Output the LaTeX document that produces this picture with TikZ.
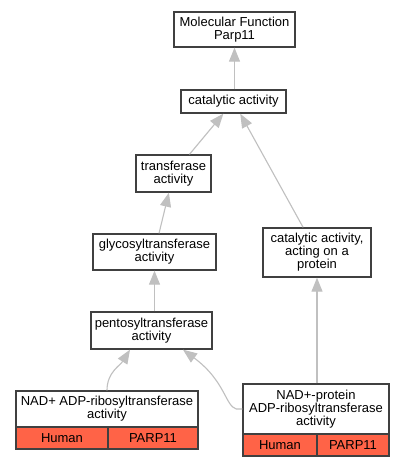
\documentclass[tikz,border=0pt]{standalone}
\usepackage{fontspec}
\setmainfont{Liberation Sans}
\usetikzlibrary{arrows.meta,calc}
\definecolor{edgegray}{HTML}{C0C0C0}
\definecolor{boxline}{HTML}{404040}
\definecolor{cellred}{HTML}{FF6347}
\tikzset{
  x=1pt,y=1pt,
  term/.style={draw=boxline,line width=1.4pt,fill=white,align=center,inner sep=0pt,
    font=\fontsize{13}{13}\selectfont},
  cell/.style={draw=boxline,line width=1.4pt,fill=cellred,inner sep=0pt,
    font=\fontsize{13}{13}\selectfont},
  edge/.style={draw=edgegray,line width=1.1pt,-{Triangle[length=14pt,width=11pt]}}
}
\begin{document}
\begin{tikzpicture}
\useasboundingbox[fill=white] (0,0) rectangle (404,-467);
\node[term,minimum width=121,minimum height=35] (mf) at (234.5,-29.5) {Molecular Function\\Parp11};
\node[term,minimum width=105,minimum height=23] (cat) at (233.5,-101.5) {catalytic activity};
\node[term,minimum width=75,minimum height=37] (trans) at (173.5,-173.5) {transferase\\activity};
\node[term,minimum width=123,minimum height=36] (glyco) at (154.5,-252) {glycosyltransferase\\activity};
\node[term,minimum width=108,minimum height=49] (prot) at (317,-252.5) {catalytic activity,\\acting on a\\protein};
\node[term,minimum width=121,minimum height=37] (pento) at (151.5,-330.5) {pentosyltransferase\\activity};
\node[term,minimum width=182,minimum height=36] (nadone) at (107,-409) {NAD+ ADP-ribosyltransferase\\activity};
\node[cell,minimum width=92,minimum height=22] (nadoneh) at (62,-438) {Human};
\node[cell,minimum width=90,minimum height=22] (nadonep) at (153,-438) {PARP11};
\node[term,minimum width=146,minimum height=50] (nadtwo) at (316,-409) {NAD+-protein\\ADP-ribosyltransferase\\activity};
\node[cell,minimum width=74,minimum height=22] (nadtwoh) at (280,-445) {Human};
\node[cell,minimum width=72,minimum height=22] (nadtwop) at (353,-445) {PARP11};
\coordinate (pentoa) at ($(pento.south)+(-21.5,0)$);
\coordinate (pentob) at ($(pento.south)+(31.5,0)$);
\draw[edge] (mf.south |- cat.north) -- (mf.south);
\draw[edge] (trans) -- (cat);
\draw[edge] (prot) -- (cat);
\draw[edge] (glyco) -- (trans);
\draw[edge] (glyco.south |- pento.north) -- (glyco.south);
\draw[edge] (prot.south |- nadtwo.north) -- (prot.south);
\draw[edge] (nadone.north) .. controls ($(nadone.north)+(0,18)$) and ($(pentoa)+(-10,-16)$) .. (pentoa);
\draw[edge] (nadtwo.west) -- ++(-6,0) .. controls ($(nadtwo.west)+(-17,3)$) and ($(nadtwo.west)+(-17,28)$) .. (pentob);
\end{tikzpicture}
\end{document}
